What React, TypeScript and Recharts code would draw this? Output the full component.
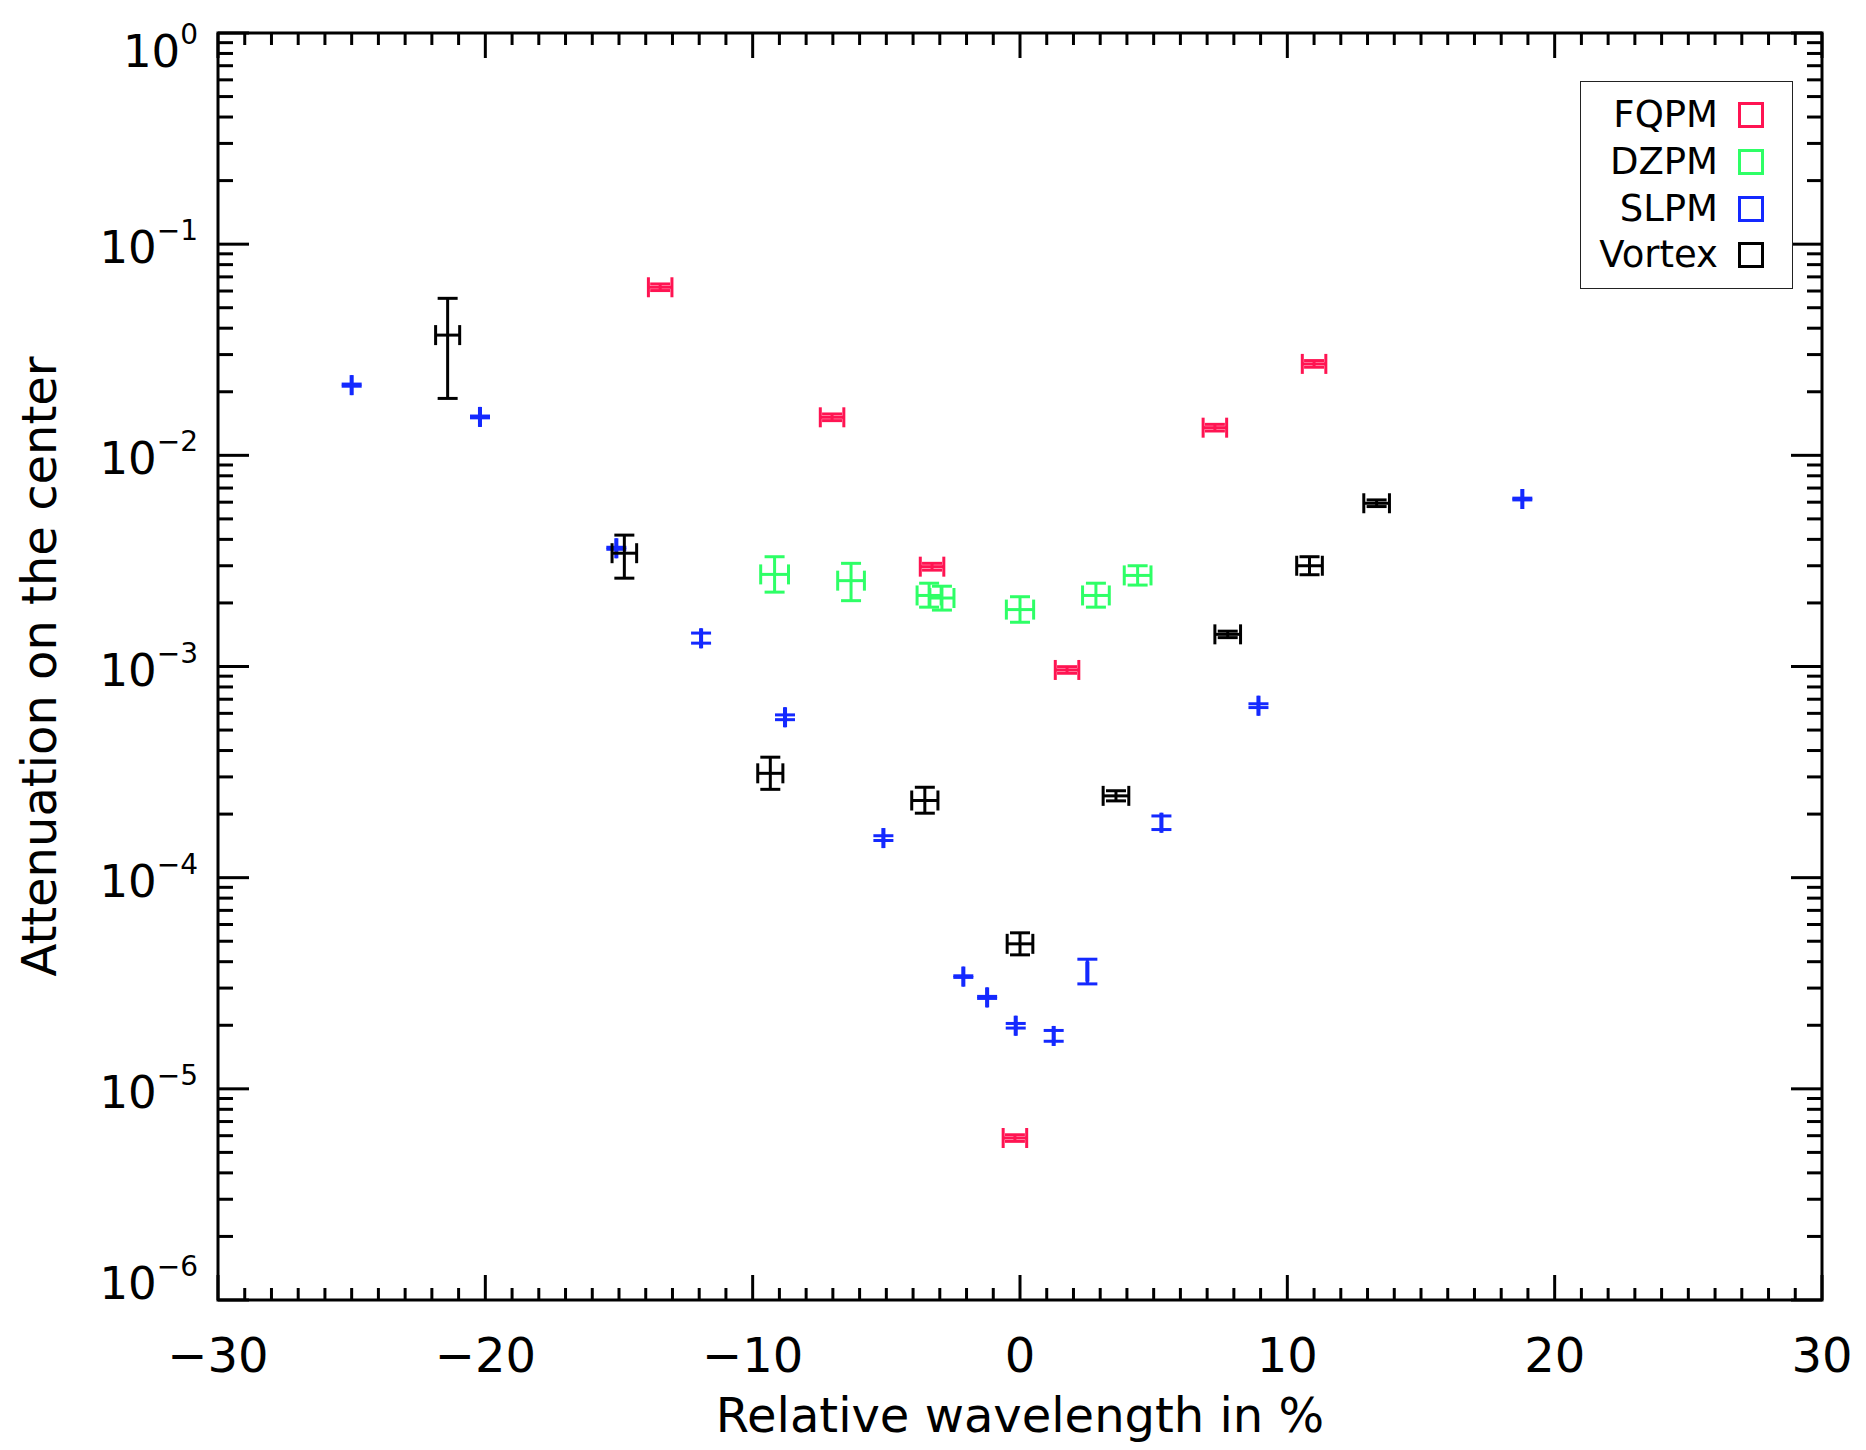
import { Legend, ErrorBar, ReferenceArea, Scatter, ScatterChart, XAxis, YAxis } from 'recharts';

// 衰减 vs 相对波长:四种相位掩模的测量点,全部只画误差棒
const FONT = '"DejaVu Sans", sans-serif';
const WIDTH = 1866;
const HEIGHT = 1450;
const PLOT_LEFT = 218;
const PLOT_TOP = 33;
const PLOT_RIGHT = 1822;
const PLOT_BOTTOM = 1300;
const PLOT_W = PLOT_RIGHT - PLOT_LEFT;
const PLOT_H = PLOT_BOTTOM - PLOT_TOP;

// FQPM
const fqpmX = [-13.46, -7.03, -3.29, 1.76, -0.19, 7.29, 11.0];
const fqpmY = [0.0625, 0.01514, 2.97e-3, 9.63e-4, 5.85e-6, 0.01352, 0.0271];
const fqpmXErr = [0.44, 0.44, 0.44, 0.44, 0.44, 0.44, 0.44];
const fqpmYLo = [0.0603, 0.0146, 2.86e-3, 9.29e-4, 5.64e-6, 0.01304, 0.02614];
const fqpmYHi = [0.0648, 0.0157, 3.08e-3, 9.98e-4, 6.06e-6, 0.01402, 0.0281];

// DZPM
const dzpmX = [-9.18, -6.32, -3.4, -2.92, 0.0, 2.84, 4.4];
const dzpmY = [2.73e-3, 2.55e-3, 2.17e-3, 2.11e-3, 1.86e-3, 2.17e-3, 2.7e-3];
const dzpmXErr = [0.52, 0.5, 0.45, 0.45, 0.51, 0.5, 0.5];
const dzpmYLo = [2.25e-3, 2.05e-3, 1.91e-3, 1.85e-3, 1.62e-3, 1.91e-3, 2.43e-3];
const dzpmYHi = [3.31e-3, 3.08e-3, 2.48e-3, 2.4e-3, 2.14e-3, 2.48e-3, 3.0e-3];

// SLPM(横向误差几乎为零,只剩竖直的端帽)
const slpmX = [-25.0, -20.2, -15.1, -11.93, -8.79, -5.11, -2.12, -1.23, -0.16, 1.26, 2.52, 5.29, 8.92, 18.79];
const slpmY = [0.0215, 0.0152, 3.63e-3, 1.36e-3, 5.75e-4, 1.54e-4, 3.4e-5, 2.71e-5, 1.99e-5, 1.78e-5, 3.59e-5, 1.82e-4, 6.52e-4, 6.21e-3];
const slpmXErr = [0.02, 0.02, 0.02, 0.02, 0.02, 0.02, 0.02, 0.02, 0.02, 0.02, 0.02, 0.02, 0.02, 0.02];
const slpmYLo = [0.02125, 0.01505, 3.59e-3, 1.29e-3, 5.6e-4, 1.5e-4, 3.37e-5, 2.68e-5, 1.94e-5, 1.68e-5, 3.14e-5, 1.69e-4, 6.39e-4, 6.15e-3];
const slpmYHi = [0.02175, 0.01535, 3.67e-3, 1.44e-3, 5.9e-4, 1.58e-4, 3.43e-5, 2.74e-5, 2.04e-5, 1.89e-5, 4.11e-5, 1.96e-4, 6.66e-4, 6.27e-3];

// Vortex
const vortexX = [-21.41, -14.8, -9.34, -3.56, 0.0, 3.59, 7.77, 10.83, 13.34];
const vortexY = [0.0371, 3.44e-3, 3.12e-4, 2.32e-4, 4.86e-5, 2.44e-4, 1.42e-3, 3.0e-3, 5.93e-3];
const vortexXErr = [0.45, 0.46, 0.47, 0.49, 0.48, 0.48, 0.48, 0.48, 0.48];
const vortexYLo = [0.0186, 2.62e-3, 2.62e-4, 2.02e-4, 4.31e-5, 2.31e-4, 1.37e-3, 2.72e-3, 5.72e-3];
const vortexYHi = [0.0554, 4.19e-3, 3.72e-4, 2.68e-4, 5.48e-5, 2.58e-4, 1.47e-3, 3.31e-3, 6.15e-3];

const COLORS = { FQPM: '#ff1452', DZPM: '#2eff66', SLPM: '#1429ff', Vortex: '#000000' };
const LEGEND_ORDER = ['FQPM', 'DZPM', 'SLPM', 'Vortex'];

// 轴刻度
const xMajor = [-30, -20, -10, 0, 10, 20, 30];
const xMajorLabels = ['−30', '−20', '−10', '0', '10', '20', '30'];
const xTicks = Array.from({ length: 61 }, (_, i) => i - 30);
const yMajor = [1, 1e-1, 1e-2, 1e-3, 1e-4, 1e-5, 1e-6];
const yMajorExp = ['0', '−1', '−2', '−3', '−4', '−5', '−6'];
const yTicks = [1, ...yMajor.slice(1).flatMap((d) => [1, 2, 3, 4, 5, 6, 7, 8, 9].map((k) => k * d))];

function toPoints(xs: number[], ys: number[], xErr: number[], yLo: number[], yHi: number[]) {
  return xs.map((x, i) => ({ x, y: ys[i], xErr: xErr[i], yLo: yLo[i], yHi: yHi[i] }));
}

const series = [
  { name: 'FQPM', data: toPoints(fqpmX, fqpmY, fqpmXErr, fqpmYLo, fqpmYHi) },
  { name: 'DZPM', data: toPoints(dzpmX, dzpmY, dzpmXErr, dzpmYLo, dzpmYHi) },
  { name: 'SLPM', data: toPoints(slpmX, slpmY, slpmXErr, slpmYLo, slpmYHi) },
  { name: 'Vortex', data: toPoints(vortexX, vortexY, vortexXErr, vortexYLo, vortexYHi) },
] as const;

// ErrorBar 拿到的是 scatter 点对象(x/y 已被换成像素),原始数据在 payload 里
const yErrOf = (p: any) => {
  const d = p.payload ?? p;
  return [d.y - d.yLo, d.yHi - d.y];
};
const xErrOf = (p: any) => (p.payload ?? p).xErr;

function XTick({ x, y, payload }: any) {
  const v = payload.value as number;
  const idx = xMajor.indexOf(v);
  const len = idx >= 0 ? 25 : 12;
  return (
    <g>
      <line x1={x} x2={x} y1={y} y2={y - len} stroke="#000" strokeWidth={3} />
      <line x1={x} x2={x} y1={y - PLOT_H} y2={y - PLOT_H + len} stroke="#000" strokeWidth={3} />
      {idx >= 0 && (
        <text x={x} y={y + 72} textAnchor="middle" fontSize={48} fontFamily={FONT} fill="#000">
          {xMajorLabels[idx]}
        </text>
      )}
    </g>
  );
}

function YTick({ x, y, payload }: any) {
  const v = payload.value as number;
  const idx = yMajor.findIndex((m) => Math.abs(m - v) / m < 1e-9);
  const len = idx >= 0 ? 31 : 15;
  // 两端的标签被压进轴范围内,中间的垂直居中
  const base = idx === 0 ? y + 34 : idx === yMajor.length - 1 ? y - 1 : y + 19;
  return (
    <g>
      <line x1={x} x2={x + len} y1={y} y2={y} stroke="#000" strokeWidth={3} />
      <line x1={x + PLOT_W} x2={x + PLOT_W - len} y1={y} y2={y} stroke="#000" strokeWidth={3} />
      {idx >= 0 && (
        <text x={x - 20} y={base} textAnchor="end" fontSize={45} fontFamily={FONT} fill="#000">
          <tspan>10</tspan>
          <tspan dy={-23} fontSize={28}>
            {yMajorExp[idx]}
          </tspan>
        </text>
      )}
    </g>
  );
}

function LegendBox({ payload }: any) {
  const items = [...((payload ?? []) as any[])].sort(
    (a, b) => LEGEND_ORDER.indexOf(a.value) - LEGEND_ORDER.indexOf(b.value),
  );
  return (
    <div
      style={{
        width: 213,
        height: 208,
        boxSizing: 'border-box',
        border: '1.5px solid #222',
        background: '#fff',
        paddingTop: 10,
        fontFamily: FONT,
      }}
    >
      {items.map((p) => (
        <div
          key={p.value}
          style={{ display: 'flex', justifyContent: 'flex-end', alignItems: 'center', height: 46.7, paddingRight: 28 }}
        >
          <span style={{ fontSize: 37, lineHeight: '46px', color: '#000' }}>{p.value}</span>
          <span
            style={{
              width: 26,
              height: 26,
              boxSizing: 'border-box',
              border: `3px solid ${COLORS[p.value as keyof typeof COLORS] ?? p.color}`,
              marginLeft: 20,
            }}
          />
        </div>
      ))}
    </div>
  );
}

const XTitle = () => (
  <text x={(PLOT_LEFT + PLOT_RIGHT) / 2} y={1432} textAnchor="middle" fontSize={48} fontFamily={FONT} fill="#000">
    Relative wavelength in %
  </text>
);

const YTitle = () => (
  <text
    x={56}
    y={(PLOT_TOP + PLOT_BOTTOM) / 2}
    transform={`rotate(-90, 56, ${(PLOT_TOP + PLOT_BOTTOM) / 2})`}
    textAnchor="middle"
    fontSize={48}
    fontFamily={FONT}
    fill="#000"
  >
    Attenuation on the center
  </text>
);

export default function App() {
  return (
    <div style={{ position: 'absolute', left: 0, top: 0, background: '#fff' }}>
      <ScatterChart width={WIDTH} height={HEIGHT} margin={{ top: PLOT_TOP, right: WIDTH - PLOT_RIGHT, left: 0, bottom: 0 }}>
        <XAxis
          type="number"
          dataKey="x"
          domain={[-30, 30]}
          ticks={xTicks}
          interval={0}
          allowDataOverflow
          height={HEIGHT - PLOT_BOTTOM}
          axisLine={false}
          tickLine={false}
          tickSize={0}
          tickMargin={0}
          tick={(p: any) => <XTick {...p} />}
          label={<XTitle />}
        />
        <YAxis
          type="number"
          dataKey="y"
          scale="log"
          domain={[1e-6, 1]}
          ticks={yTicks}
          interval={0}
          allowDataOverflow
          width={PLOT_LEFT}
          axisLine={false}
          tickLine={false}
          tickSize={0}
          tickMargin={0}
          tick={(p: any) => <YTick {...p} />}
          label={<YTitle />}
        />
        <ReferenceArea
          x1={-30}
          x2={30}
          y1={1e-6}
          y2={1}
          fill="none"
          fillOpacity={0}
          stroke="#000"
          strokeWidth={3}
          ifOverflow="visible"
        />
        {series.map((s) => (
          <Scatter
            key={s.name}
            name={s.name}
            data={s.data as any}
            fill={COLORS[s.name]}
            stroke={COLORS[s.name]}
            shape={() => <g />}
            isAnimationActive={false}
          >
            <ErrorBar direction="x" dataKey={xErrOf} width={10} stroke={COLORS[s.name]} strokeWidth={3} />
            <ErrorBar direction="y" dataKey={yErrOf} width={10} stroke={COLORS[s.name]} strokeWidth={3} />
          </Scatter>
        ))}
        <Legend
          layout="horizontal"
          align="center"
          verticalAlign="middle"
          content={(props: any) => <LegendBox {...props} />}
          wrapperStyle={{ left: 1580, top: 81, width: 213, height: 208 }}
        />
      </ScatterChart>
    </div>
  );
}
